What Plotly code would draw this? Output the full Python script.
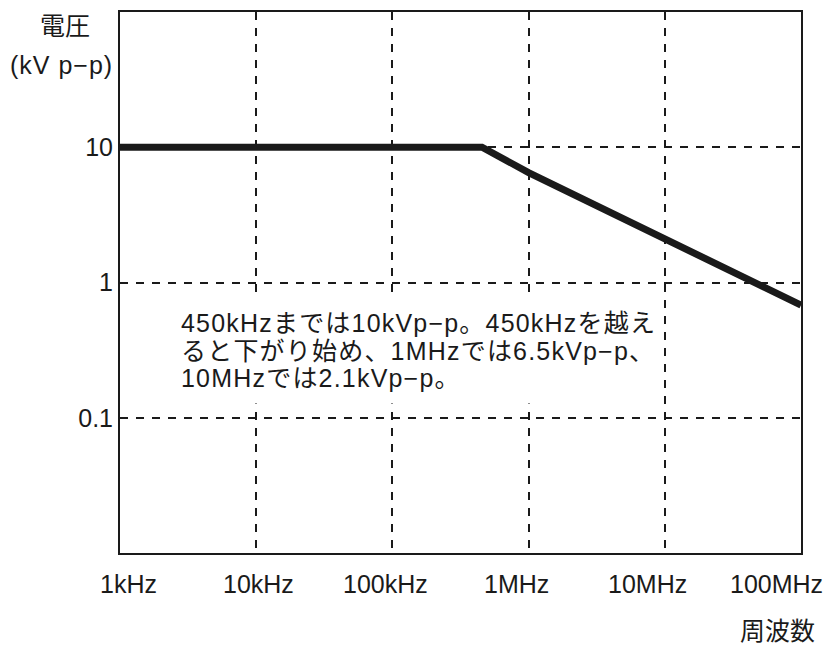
import plotly.graph_objects as go
import numpy as np

# Data (frequency in kHz, voltage in kV p-p)
freq_khz = [1, 455, 1000, 10000, 100000]
voltage_kvpp = [10, 10, 6.5, 2.1, 0.68]

# Axis ticks
x_tick_vals = [1, 10, 100, 1000, 10000, 100000]
x_tick_text = ["1kHz", "10kHz", "100kHz", "1MHz", "10MHz", "100MHz"]
x_label_pos = [1.15, 10.4, 89, 820, 7500, 66000]  # where each label text sits on the axis
y_tick_vals = [0.1, 1, 10]
y_tick_text = ["0.1", "1", "10"]

note_lines = [
    "450kHzまでは10kVp−p。450kHzを越え",
    "ると下がり始め、1MHzでは6.5kVp−p、",
    "10MHzでは2.1kVp−p。",
]

LATIN = "Liberation Sans, Arial, Noto Sans CJK JP, sans-serif"
CJK = "Noto Sans CJK JP, Liberation Sans, sans-serif"
INK = "#1a1a1a"

fig = go.Figure()
fig.add_trace(go.Scatter(
    x=freq_khz, y=voltage_kvpp, mode="lines",
    line=dict(color=INK, width=7),
    hoverinfo="skip", showlegend=False, cliponaxis=False,
))

grid = dict(showgrid=True, gridcolor=INK, gridwidth=2, griddash="8px,8px",
            showline=True, linecolor=INK, linewidth=2, mirror=True,
            zeroline=False, ticks="")
fig.update_xaxes(type="log", range=[0, 5], tickvals=x_tick_vals,
                 showticklabels=False, **grid)
fig.update_yaxes(type="log", range=[-2, 2], tickvals=y_tick_vals,
                 ticktext=y_tick_text,
                 tickfont=dict(family=LATIN, size=25, color=INK), **grid)

annotations = []
for pos, txt in zip(x_label_pos, x_tick_text):
    annotations.append(dict(
        x=np.log10(pos), y=0, xref="x", yref="paper", yshift=-31,
        text=txt, showarrow=False, xanchor="center", yanchor="middle",
        font=dict(family=LATIN, size=25, color=INK),
    ))

note_html = "<br>".join(
    f'<span style="font-size:25px;letter-spacing:1.2px">{ln}</span>' for ln in note_lines
)
annotations.append(dict(
    x=np.log10(2.667), y=np.log10(0.313), xref="x", yref="y",
    text=note_html, align="left", valign="middle", showarrow=False,
    xanchor="left", yanchor="middle",
    width=480, height=101,
    font=dict(family=LATIN, size=21, color=INK),
    bgcolor="white", borderpad=2,
))

annotations += [
    dict(x=-0.0808, y=0.978, xref="paper", yref="paper", text="電圧",
         showarrow=False, xanchor="center", yanchor="middle",
         font=dict(family=CJK, size=25, color=INK)),
    dict(x=-0.0856, y=0.9015, xref="paper", yref="paper",
         text='<span style="letter-spacing:1px">(kV p−p)</span>',
         showarrow=False, xanchor="center", yanchor="middle",
         font=dict(family=LATIN, size=25, color=INK)),
    dict(x=0.965, y=-0.140, xref="paper", yref="paper", text="周波数",
         showarrow=False, xanchor="center", yanchor="middle",
         font=dict(family=CJK, size=25, color=INK)),
]

fig.update_layout(
    width=831, height=646,
    margin=dict(l=120, r=30, t=10, b=93),
    paper_bgcolor="white", plot_bgcolor="white",
    annotations=annotations,
    showlegend=False,
)

# remove the browser's default 8px body margin so the figure fills the window
fig.write_html("out.html", config={"displayModeBar": False},
               post_script="document.body.style.margin='0';")
